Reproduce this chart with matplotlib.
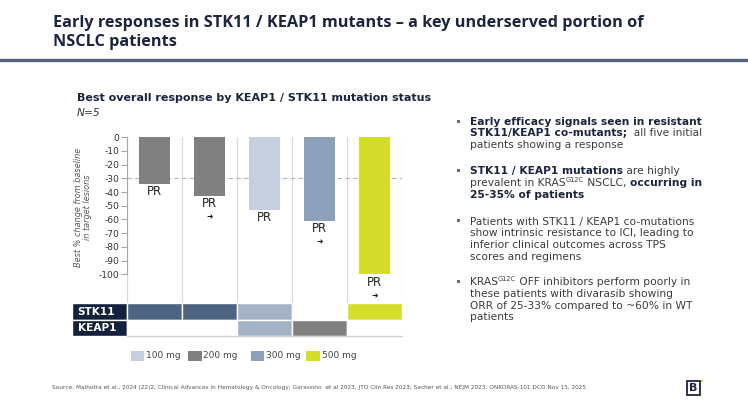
import matplotlib
matplotlib.use('Agg')
import matplotlib.pyplot as plt
from matplotlib.patches import Rectangle
from matplotlib.lines import Line2D

# ---------------- data ----------------
patients = ['P1', 'P2', 'P3', 'P4', 'P5']
best_change = [-34, -43, -53, -61, -100]
patient_dose = ['200 mg', '200 mg', '100 mg', '300 mg', '500 mg']
response = ['PR', 'PR', 'PR', 'PR', 'PR']
ongoing = [False, True, False, True, True]
yticks = [0, -10, -20, -30, -40, -50, -60, -70, -80, -90, -100]
threshold = -30

dose_levels = ['100 mg', '200 mg', '300 mg', '500 mg']
dose_colors = ['#c5cfdf', '#808080', '#8da1bc', '#d4de2a']

table_rows = ['STK11', 'KEAP1']
stk11_cells = ['#4c6382', '#4c6382', '#a3b3c5', '#ffffff', '#d4de2a']
keap1_cells = ['#ffffff', '#ffffff', '#a3b3c5', '#808080', '#ffffff']

title_lines = ["Early responses in STK11 / KEAP1 mutants \u2013 a key underserved portion of",
               "NSCLC patients"]
chart_title = "Best overall response by KEAP1 / STK11 mutation status"
chart_sub = "N=5"
ylabel = "Best % change from baseline\nin target lesions"
source = ("Source: Malhotra et al., 2024 (22)2, Clinical Advances in Hematology & Oncology; "
          "Garassino  et al 2023, JTO Clin Res 2023; Sacher et al., NEJM 2023; ONKORAS-101 DCO Nov 15, 2025")

bullets = [
    [[("Early efficacy signals seen in resistant", 'b')],
     [("STK11/KEAP1 co-mutants;", 'b'), ("  all five initial", 'r')],
     [("patients showing a response", 'r')]],
    [[("STK11 / KEAP1 mutations", 'b'), (" are highly", 'r')],
     [("prevalent in KRAS", 'r'), ("G12C", 's'), (" NSCLC, ", 'r'), ("occurring in", 'b')],
     [("25-35% of patients", 'b')]],
    [[("Patients with STK11 / KEAP1 co-mutations", 'r')],
     [("show intrinsic resistance to ICI, leading to", 'r')],
     [("inferior clinical outcomes across TPS", 'r')],
     [("scores and regimens", 'r')]],
    [[("KRAS", 'r'), ("G12C", 's'), (" OFF inhibitors perform poorly in", 'r')],
     [("these patients with divarasib showing", 'r')],
     [("ORR of 25-33% compared to ~60% in WT", 'r')],
     [("patients", 'r')]],
]
bullet_tops = [121, 170.7, 221, 281.7]

# ---------------- figure ----------------
plt.rcParams['font.family'] = ['DejaVu Sans']
plt.rcParams['axes.unicode_minus'] = False
W, H = 748, 413
fig = plt.figure(figsize=(W / 100, H / 100), dpi=100)
fig.patch.set_facecolor('white')
renderer = fig.canvas.get_renderer()

NAVY = '#1b2440'
REG = '#3c3c3c'


def fx(x):
    return x / W


def fy(y):
    return 1 - y / H


def measure(txt, **kw):
    t = fig.text(0, 0, '|' + txt + '|', **kw)
    w1 = t.get_window_extent(renderer).width
    t.set_text('||')
    w2 = t.get_window_extent(renderer).width
    t.remove()
    return w1 - w2


def fit(txt, target, **kw):
    return 10 * target / measure(txt, fontsize=10, **kw)


# header
tsize = fit(title_lines[0], 589, family='Open Sans', weight='bold')
fig.text(fx(53), fy(23), title_lines[0], fontsize=tsize, family='Open Sans', weight='bold',
         color=NAVY, va='center')
fig.text(fx(53), fy(42), title_lines[1], fontsize=tsize, family='Open Sans', weight='bold',
         color=NAVY, va='center')
fig.add_artist(Line2D([0, 1], [fy(60), fy(60)], color='#56657c', lw=2.4))

# chart title
csize = fit(chart_title, 358, weight='bold')
fig.text(fx(77), fy(98), chart_title, fontsize=csize, weight='bold', color=NAVY, va='center')
fig.text(fx(77), fy(112.5), chart_sub, fontsize=csize * 0.95, style='italic', color='#333333', va='center')

# bar axes
ax = fig.add_axes([fx(127), fy(303), (402 - 127) / W, (303 - 137.3) / H])
x = list(range(len(patients)))
colmap = dict(zip(dose_levels, dose_colors))
ax.bar(x, best_change, width=0.55, color=[colmap[d] for d in patient_dose], zorder=3)
ax.set_xlim(-0.5, len(patients) - 0.5)
ax.set_ylim(-121, 0)
ax.axhline(threshold, color='#b5b5b5', lw=0.8, ls=(0, (4, 3)), zorder=2)
for b in range(len(patients) + 1):
    ax.axvline(b - 0.5, color='#d9d9d9', lw=0.9, zorder=1)
for s in ['top', 'right', 'bottom']:
    ax.spines[s].set_visible(False)
ax.spines['left'].set_bounds(-100, 0)
ax.spines['left'].set_color('#a8a8a8')
ax.spines['left'].set_zorder(4)
ax.set_xticks([])
ax.set_yticks(yticks)
ax.tick_params(axis='y', length=4.5, width=0.8, color='#a8a8a8', labelsize=6.6,
               labelcolor='#333333', pad=1)
for i, (v, r, og) in enumerate(zip(best_change, response, ongoing)):
    ax.annotate(r, (i, v), xytext=(0, -5.6), textcoords='offset points', ha='center',
                va='center', fontsize=8.3, color='#222222', annotation_clip=False)
    if og:
        ax.annotate('\u279c', (i, v), xytext=(0, -15.3), textcoords='offset points', ha='center',
                    va='center', fontsize=5.5, color='#111111', annotation_clip=False)

ysize = fit("Best % change from baseline", 119, style='italic')
fig.text(fx(83), fy(207), ylabel, rotation=90, ha='center', va='center', fontsize=ysize,
         style='italic', color='#555555', linespacing=1.05)

# table
axt = fig.add_axes([fx(72), fy(336), 330 / W, (336 - 303) / H])
axt.set_xlim(-1.5, len(patients) - 0.5)
axt.set_ylim(len(table_rows), 0)
axt.axis('off')
for r, (name, cells) in enumerate(zip(table_rows, [stk11_cells, keap1_cells])):
    axt.add_patch(Rectangle((-1.5, r), 1, 1, facecolor='#13213c', edgecolor='white', lw=1))
    axt.text(-1.4, r + 0.52, name, color='white', weight='bold', fontsize=7.6, ha='left', va='center')
    for c, col in enumerate(cells):
        axt.add_patch(Rectangle((c - 0.5, r), 1, 1, facecolor=col, edgecolor='white', lw=1))
axt.plot([-0.5, len(patients) - 0.5], [len(table_rows), len(table_rows)], color='#d0d0d0',
         lw=1, clip_on=False)

# legend
lsize = fit("100 mg", 34.5)
sq_x = [130.7, 188, 250.7, 306]
for sx, lab, col in zip(sq_x, dose_levels, dose_colors):
    fig.patches.append(Rectangle((fx(sx), fy(360.7)), 13.5 / W, 9.7 / H, facecolor=col,
                                 edgecolor='none', transform=fig.transFigure, figure=fig))
    fig.text(fx(sx + 15.5), fy(356), lab, fontsize=lsize, color='#444444', va='center')

# bullets
bsize = fit("Patients with STK11 / KEAP1 co-mutations", 224)
line_h = 11.7
px2pt = 72 / 100
for top, lines in zip(bullet_tops, bullets):
    fig.patches.append(Rectangle((fx(456.5), fy(top + 1.5)), 3 / W, 3 / H, facecolor='#6b6b6b',
                                 edgecolor='none', transform=fig.transFigure, figure=fig))
    for li, runs in enumerate(lines):
        base = top + li * line_h + 3.6
        cx = 470
        for txt, sty in runs:
            kw = dict(fontsize=bsize, color=REG, weight='normal')
            yy = base
            if sty == 'b':
                kw.update(weight='bold', color=NAVY)
            if sty == 's':
                kw.update(fontsize=bsize * 0.62)
                yy = base - bsize / px2pt * 0.42
            fig.text(fx(cx), fy(yy), txt, va='baseline', **kw)
            cx += measure(txt, **kw)

# footer
fsize = fit(source, 524)
fig.text(fx(52.5), fy(388), source, fontsize=fsize, color='#555555', va='center')
fig.patches.append(Rectangle((fx(687), fy(395)), 13 / W, 14 / H, facecolor='white',
                             edgecolor=NAVY, lw=1.3, transform=fig.transFigure, figure=fig))
fig.text(fx(693.5), fy(388.3), 'B', fontsize=8, weight='bold', color=NAVY, ha='center', va='center')
fig.patches.append(Rectangle((fx(700.5), fy(382)), 2 / W, 2 / H, facecolor='#d4de2a',
                             edgecolor='none', transform=fig.transFigure, figure=fig))

fig.savefig('out.png', dpi=100, facecolor='white')
